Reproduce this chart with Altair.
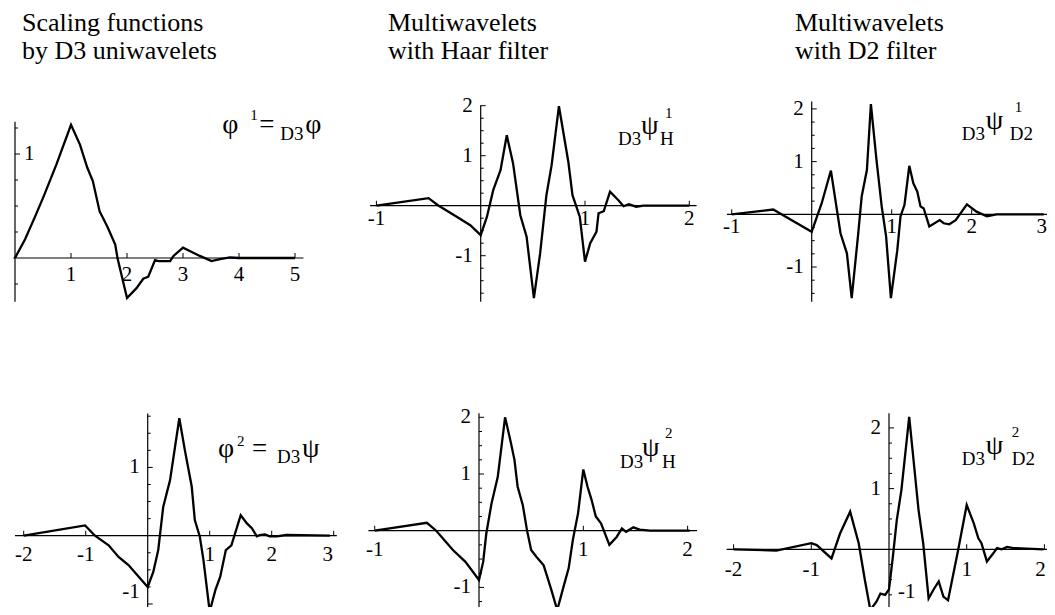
import altair as alt
import pandas as pd
import numpy as np
import math

FONT = "Liberation Serif"

# ---------------- data ----------------
p1_x = [0, 0.18, 0.36, 0.51, 0.74, 1.0, 1.16, 1.29, 1.39, 1.51, 1.65, 1.79, 1.83, 2.0, 2.17, 2.29, 2.38, 2.50, 2.56, 2.77, 2.83, 3.0, 3.30, 3.51, 3.66, 3.84, 4.0, 5.0]
p1_y = [0, 0.18, 0.40, 0.59, 0.90, 1.28, 1.09, 0.87, 0.74, 0.45, 0.30, 0.13, 0, -0.385, -0.29, -0.20, -0.18, -0.02, -0.03, -0.03, 0.02, 0.10, 0.02, -0.03, -0.01, 0.005, 0, 0]

p2_x = [-1.0, -0.50, -0.41, -0.23, -0.10, 0, 0.06, 0.12, 0.19, 0.25, 0.31, 0.38, 0.44, 0.51, 0.57, 0.63, 0.68, 0.75, 0.84, 0.88, 0.95, 1.00, 1.05, 1.11, 1.13, 1.18, 1.24, 1.32, 1.37, 1.42, 1.49, 1.56, 2.0]
p2_y = [0, 0.15, 0.01, -0.22, -0.39, -0.59, -0.22, 0.31, 0.71, 1.41, 0.85, -0.19, -0.62, -1.85, -0.95, 0.21, 0.81, 1.99, 0.88, 0.21, -0.22, -1.12, -0.75, -0.52, -0.15, -0.11, 0.28, 0.11, -0.01, 0.03, -0.02, 0, 0]

p3_x = [-1.0, -0.48, -0.40, 0, 0.125, 0.24, 0.36, 0.44, 0.50, 0.58, 0.625, 0.69, 0.74, 0.81, 0.875, 0.93, 0.99, 1.07, 1.11, 1.16, 1.22, 1.27, 1.32, 1.36, 1.40, 1.47, 1.60, 1.65, 1.72, 1.80, 1.94, 2.06, 2.19, 2.31, 2.9]
p3_y = [0, 0.09, 0.02, -0.33, 0.21, 0.83, -0.36, -0.74, -1.59, -0.39, 0.34, 0.84, 2.09, 1.03, 0.15, -0.42, -1.59, -0.68, -0.04, 0.18, 0.92, 0.59, 0.43, 0.15, 0.11, -0.23, -0.11, -0.17, -0.19, -0.11, 0.19, 0.05, -0.04, 0, 0]

p4_x = [-2.0, -1.01, -0.85, -0.63, -0.47, -0.31, 0, 0.09, 0.17, 0.25, 0.36, 0.51, 0.60, 0.71, 0.76, 0.84, 0.90, 1.0, 1.09, 1.17, 1.26, 1.35, 1.50, 1.60, 1.68, 1.76, 1.81, 1.89, 1.97, 2.08, 2.24, 2.94]
p4_y = [0, 0.15, 0, -0.14, -0.31, -0.43, -0.75, -0.53, -0.21, 0.42, 0.81, 1.72, 1.25, 0.72, 0.23, -0.01, -0.36, -1.11, -0.80, -0.60, -0.21, -0.14, 0.30, 0.18, 0.11, -0.01, 0.01, 0.02, -0.01, -0.01, 0.01, 0]

p5_x = [-1.0, -0.50, -0.41, -0.25, -0.13, 0, 0.04, 0.07, 0.12, 0.18, 0.25, 0.30, 0.34, 0.37, 0.42, 0.46, 0.50, 0.55, 0.62, 0.69, 0.75, 0.81, 0.86, 0.90, 0.95, 1.0, 1.04, 1.08, 1.12, 1.17, 1.25, 1.32, 1.37, 1.41, 1.48, 1.54, 1.64, 2.02]
p5_y = [0, 0.14, 0, -0.34, -0.55, -0.87, -0.55, -0.05, 0.48, 0.95, 2.0, 1.60, 1.25, 0.78, 0.45, 0.01, -0.34, -0.46, -0.61, -1.02, -1.40, -0.99, -0.66, -0.16, 0.31, 1.08, 0.78, 0.54, 0.25, 0.13, -0.25, -0.11, 0.04, -0.02, 0.06, 0.02, 0, 0]

p6_x = [-2.0, -1.45, -1.0, -0.93, -0.74, -0.63, -0.50, -0.39, -0.31, -0.24, -0.16, -0.11, -0.05, 0, 0.05, 0.10, 0.16, 0.26, 0.38, 0.44, 0.51, 0.57, 0.64, 0.70, 0.76, 0.89, 1.0, 1.09, 1.15, 1.19, 1.26, 1.34, 1.39, 1.45, 1.52, 1.60, 1.99]
p6_y = [0, -0.02, 0.10, 0.07, -0.15, 0.26, 0.62, 0.10, -0.51, -1.0, -0.86, -0.73, -0.75, -0.66, -0.12, 0.48, 0.98, 2.18, 0.65, 0.10, -0.81, -0.67, -0.53, -0.78, -0.84, -0.01, 0.73, 0.43, 0.18, 0.10, -0.20, -0.07, 0.02, 0, 0.04, 0.02, 0]

# tick labels
p1_xlabels = [1, 2, 3, 4, 5]
p1_ylabels_left, p1_ylabels_right = [], [1]
p2_xlabels = [-1, 1, 2]
p2_ylabels_left, p2_ylabels_right = [2, 1, -1], []
p3_xlabels = [-1, 1, 2, 3]
p3_ylabels_left, p3_ylabels_right = [2, 1, -1], []
p4_xlabels = [-2, -1, 1, 2, 3]
p4_ylabels_left, p4_ylabels_right = [1, -1], []
p5_xlabels = [-1, 1, 2]
p5_ylabels_left, p5_ylabels_right = [2, 1, -1], []
p6_xlabels = [-2, -1, 1, 2]
p6_ylabels_left, p6_ylabels_right = [2, 1], [-1]

# column titles
col_titles = [["Scaling functions", "by D3 uniwavelets"],
              ["Multiwavelets", "with Haar filter"],
              ["Multiwavelets", "with D2 filter"]]

# formula labels: (text, dx, dy, font size) relative to an anchor
p1_label = [("φ", 0, 0, 28), ("1", 28, -13, 15), ("=", 37, 0, 27), ("D3", 58, 7, 19), ("φ", 83, 0, 28)]
p4_label = [("φ", 0, 0, 28), ("2", 19, -11, 15), ("=", 34, 0, 27), ("D3", 59, 6, 19), ("ψ", 84, 0, 28)]
p2_label = [("D3", 0, 0, 19), ("ψ", 23, -11, 28), ("1", 47, -27, 15), ("H", 42, 0, 19)]
p3_label = [("D3", 0, 0, 19), ("ψ", 24, -11, 28), ("1", 53, -28, 15), ("D2", 48, 0, 19)]
p5_label = [("D3", 0, 0, 19), ("ψ", 22, -12, 28), ("2", 45, -30, 15), ("H", 42, 0, 19)]
p6_label = [("D3", 0, 0, 19), ("ψ", 24, -11, 28), ("2", 50, -28, 15), ("D2", 50, 0, 19)]

# label anchors in data units of each panel
p1_anchor = (3.70, 1.20)
p2_anchor = (1.316, 1.21)
p3_anchor = (1.875, 1.41)
p4_anchor = (1.134, 1.15)
p5_anchor = (1.352, 1.106)
p6_anchor = (0.936, 1.389)

# ---------------- layout (page pixels of the origin, px per unit, axis extents) ----------------
M = 8
LAYOUT = {
    1: dict(ox=15, oy=258, sx=56, sy=104, xr=(-0.03, 5.15), yr=(-0.42, 1.31), xlab_dy=17),
    2: dict(ox=480.7, oy=205.7, sx=104.3, sy=50, xr=(-1.06, 2.07), yr=(-1.92, 2.01), xlab_dy=13),
    3: dict(ox=811.7, oy=214.3, sx=80, sy=52.7, xr=(-1.06, 3.02), yr=(-1.66, 2.14), xlab_dy=13,
            xlab_dx={3: -10}),
    4: dict(ox=147.7, oy=535.7, sx=62, sy=68.3, xr=(-2.14, 3.05), yr=(-1.13, 1.79), xlab_dy=19,
            xlab_dx={3: -6}, ylab_dy={-1: -12}),
    5: dict(ox=479, oy=530.7, sx=104.3, sy=56.7, xr=(-1.06, 2.09), yr=(-1.46, 2.07), xlab_dy=19),
    6: dict(ox=889, oy=549.3, sx=77.7, sy=60.7, xr=(-2.09, 2.11), yr=(-1.08, 2.24), xlab_dy=21,
            xlab_dx={2: -4}, ylab_dy={-1: -18}),
}
TITLE_BASE = [31, 59]  # page baselines of the two title lines
TITLE_LEFT = {1: 22, 2: 388, 3: 795}


def make_scales(L):
    ox, oy, sx, sy = L["ox"] - M, L["oy"] - M, L["sx"], L["sy"]
    (x0, x1), (y0, y1) = L["xr"], L["yr"]
    xs = alt.Scale(domain=[x0, x1], range=[ox + x0 * sx, ox + x1 * sx], nice=False, zero=False)
    ys = alt.Scale(domain=[y0, y1], range=[oy - y0 * sy, oy - y1 * sy], nice=False, zero=False)
    return xs, ys


def text_layer(df, X, Y, **kw):
    return alt.Chart(df).mark_text(font=FONT, color="black", **kw).encode(x=X("x"), y=Y("y"), text="t:N")


def panel(k, xs_data, ys_data, xlabels, ylab_left, ylab_right, label, anchor, title=None):
    L = LAYOUT[k]
    xs, ys = make_scales(L)
    X = lambda f: alt.X(f, type="quantitative", scale=xs, axis=None)
    Y = lambda f: alt.Y(f, type="quantitative", scale=ys, axis=None)
    (x0, x1), (y0, y1) = L["xr"], L["yr"]
    layers = []

    # axes lines
    ax_df = pd.DataFrame({"x": [x0, 0], "y": [0, y0], "x2": [x1, 0], "y2": [0, y1]})
    layers.append(alt.Chart(ax_df).mark_rule(color="black", strokeWidth=1.2).encode(
        x=X("x"), y=Y("y"), x2=alt.X2("x2"), y2=alt.Y2("y2")))

    # major ticks
    xt = [v for v in range(math.ceil(x0), math.floor(x1) + 1) if v != 0]
    yt = [v for v in range(math.ceil(y0), math.floor(y1) + 1) if v != 0]
    layers.append(alt.Chart(pd.DataFrame({"x": xt, "y": [0] * len(xt)})).mark_tick(
        orient="vertical", size=5, thickness=1, yOffset=-2.5, color="black", opacity=1).encode(x=X("x"), y=Y("y")))
    layers.append(alt.Chart(pd.DataFrame({"x": [0] * len(yt), "y": yt})).mark_tick(
        orient="horizontal", size=5, thickness=1, xOffset=2.5, color="black", opacity=1).encode(x=X("x"), y=Y("y")))
    # minor ticks on y-axis
    ym = [round(v, 3) for v in np.arange(math.ceil(y0 * 4) / 4, y1, 0.25) if abs(v - round(v)) > 1e-6]
    layers.append(alt.Chart(pd.DataFrame({"x": [0] * len(ym), "y": ym})).mark_tick(
        orient="horizontal", size=3, thickness=1, xOffset=1.5, color="black", opacity=1).encode(x=X("x"), y=Y("y")))

    # tick labels
    xdx = L.get("xlab_dx", {})
    ydy = L.get("ylab_dy", {})
    for v in xlabels:
        d = pd.DataFrame({"x": [v], "y": [0], "t": [str(v)]})
        layers.append(text_layer(d, X, Y, fontSize=21, dy=L["xlab_dy"], dx=xdx.get(v, 0),
                                 baseline="middle", align="center"))
    for v in ylab_left:
        d = pd.DataFrame({"x": [0], "y": [v], "t": [str(v)]})
        layers.append(text_layer(d, X, Y, fontSize=21, dx=-8, dy=ydy.get(v, 0),
                                 baseline="middle", align="right"))
    for v in ylab_right:
        d = pd.DataFrame({"x": [0], "y": [v], "t": [str(v)]})
        layers.append(text_layer(d, X, Y, fontSize=21, dx=9, dy=ydy.get(v, 0),
                                 baseline="middle", align="left"))

    # curve
    cdf = pd.DataFrame({"x": xs_data, "y": ys_data, "i": range(len(xs_data))})
    layers.append(alt.Chart(cdf).mark_line(color="black", strokeWidth=2.3).encode(
        x=X("x"), y=Y("y"), order="i:Q"))

    # formula label
    for (t, dx, dy, fs) in label:
        d = pd.DataFrame({"x": [anchor[0]], "y": [anchor[1]], "t": [t]})
        layers.append(text_layer(d, X, Y, fontSize=fs, dx=dx, dy=dy, align="left", baseline="alphabetic"))

    # column title
    if title is not None:
        tx = (TITLE_LEFT[k] - L["ox"]) / L["sx"]
        tys = [(L["oy"] - b) / L["sy"] for b in TITLE_BASE]
        d = pd.DataFrame({"x": [tx, tx], "y": tys, "t": title})
        layers.append(text_layer(d, X, Y, fontSize=26, align="left", baseline="alphabetic"))
    return alt.layer(*layers)


panels = [
    panel(1, p1_x, p1_y, p1_xlabels, p1_ylabels_left, p1_ylabels_right, p1_label, p1_anchor, col_titles[0]),
    panel(2, p2_x, p2_y, p2_xlabels, p2_ylabels_left, p2_ylabels_right, p2_label, p2_anchor, col_titles[1]),
    panel(3, p3_x, p3_y, p3_xlabels, p3_ylabels_left, p3_ylabels_right, p3_label, p3_anchor, col_titles[2]),
    panel(4, p4_x, p4_y, p4_xlabels, p4_ylabels_left, p4_ylabels_right, p4_label, p4_anchor),
    panel(5, p5_x, p5_y, p5_xlabels, p5_ylabels_left, p5_ylabels_right, p5_label, p5_anchor),
    panel(6, p6_x, p6_y, p6_xlabels, p6_ylabels_left, p6_ylabels_right, p6_label, p6_anchor),
]

chart = alt.layer(*panels).resolve_scale(x="independent", y="independent").properties(
    width=1055 - 2 * M, height=615 - 2 * M,
    autosize=alt.AutoSizeParams(type="none"), padding=0,
    background="white",
).configure_view(stroke=None)

chart.save("out.html", embed_options={"renderer": "svg", "actions": False})
